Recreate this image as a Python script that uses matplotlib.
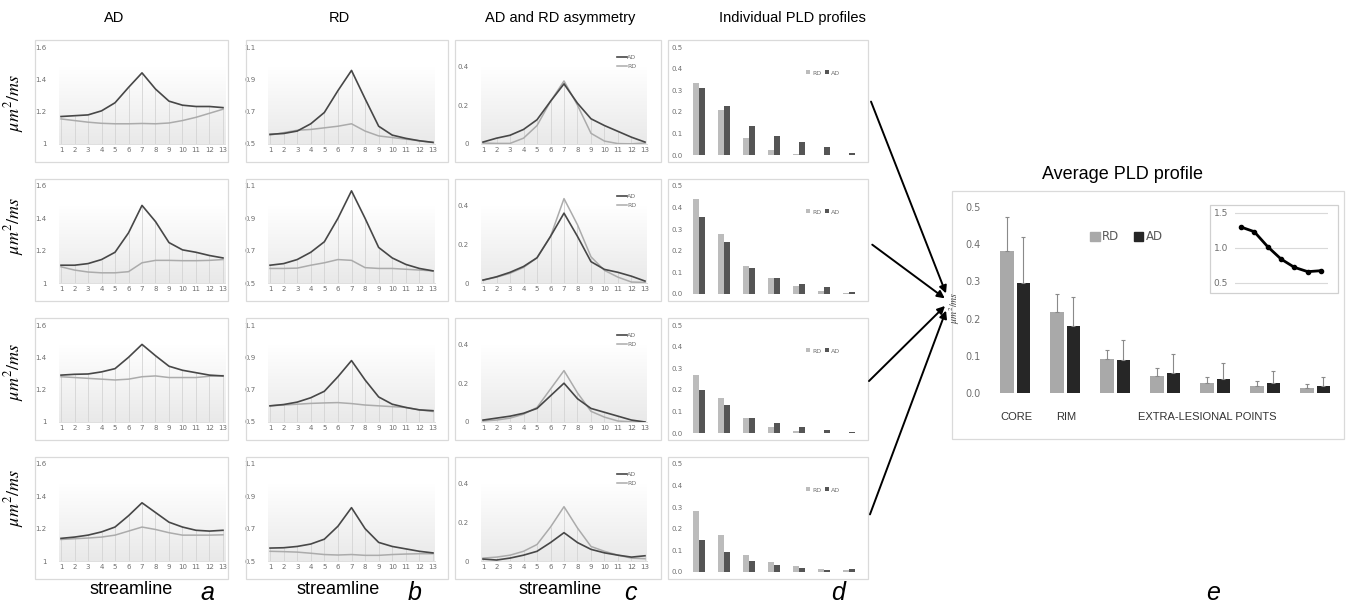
import numpy as np
import matplotlib
import matplotlib.pyplot as plt
from matplotlib.patches import Rectangle, FancyArrowPatch, Patch
from matplotlib.colors import LinearSegmentedColormap

plt.rcParams['mathtext.fontset'] = 'stix'

W, H = 1348, 605
streamline = np.arange(1, 14)
pld_points = np.arange(7)

# column a: AD along the streamline (4 lesions)
a_AD = [[1.17, 1.175, 1.18, 1.205, 1.255, 1.35, 1.44, 1.34, 1.265, 1.24, 1.232, 1.232, 1.225],
        [1.11, 1.11, 1.12, 1.145, 1.19, 1.31, 1.48, 1.38, 1.25, 1.205, 1.19, 1.17, 1.155],
        [1.29, 1.295, 1.297, 1.31, 1.33, 1.40, 1.48, 1.41, 1.345, 1.32, 1.305, 1.29, 1.285],
        [1.14, 1.148, 1.16, 1.18, 1.21, 1.28, 1.36, 1.30, 1.24, 1.21, 1.19, 1.185, 1.19]]
a_RD = [[1.155, 1.145, 1.135, 1.128, 1.125, 1.125, 1.127, 1.125, 1.13, 1.145, 1.165, 1.19, 1.215],
        [1.10, 1.08, 1.068, 1.063, 1.063, 1.07, 1.125, 1.14, 1.14, 1.138, 1.138, 1.14, 1.145],
        [1.28, 1.275, 1.27, 1.265, 1.26, 1.265, 1.28, 1.285, 1.275, 1.275, 1.275, 1.283, 1.287],
        [1.133, 1.138, 1.142, 1.148, 1.16, 1.185, 1.21, 1.195, 1.175, 1.16, 1.16, 1.16, 1.162]]

# column b: RD along the streamline
b_AD = [[0.56, 0.565, 0.58, 0.625, 0.695, 0.83, 0.955, 0.78, 0.61, 0.555, 0.535, 0.52, 0.51],
        [0.61, 0.62, 0.645, 0.69, 0.755, 0.9, 1.07, 0.9, 0.72, 0.655, 0.615, 0.59, 0.575],
        [0.6, 0.608, 0.623, 0.65, 0.69, 0.78, 0.88, 0.76, 0.655, 0.61, 0.59, 0.575, 0.57],
        [0.58, 0.582, 0.59, 0.605, 0.635, 0.715, 0.83, 0.7, 0.615, 0.59, 0.575, 0.56, 0.55]]
b_RD = [[0.555, 0.57, 0.585, 0.59, 0.60, 0.61, 0.625, 0.58, 0.55, 0.54, 0.53, 0.52, 0.51],
        [0.59, 0.59, 0.592, 0.61, 0.625, 0.645, 0.64, 0.595, 0.59, 0.59, 0.585, 0.58, 0.575],
        [0.6, 0.605, 0.61, 0.615, 0.618, 0.62, 0.614, 0.605, 0.6, 0.595, 0.59, 0.575, 0.565],
        [0.56, 0.558, 0.555, 0.548, 0.54, 0.537, 0.54, 0.535, 0.535, 0.54, 0.543, 0.545, 0.545]]

# column c: asymmetry
c_AD = [[0.01, 0.03, 0.045, 0.075, 0.125, 0.22, 0.31, 0.21, 0.13, 0.095, 0.065, 0.035, 0.01],
        [0.015, 0.032, 0.055, 0.085, 0.13, 0.24, 0.36, 0.24, 0.11, 0.07, 0.055, 0.035, 0.01],
        [0.01, 0.02, 0.03, 0.045, 0.07, 0.135, 0.2, 0.12, 0.07, 0.05, 0.03, 0.01, 0.0],
        [0.01, 0.005, 0.015, 0.03, 0.05, 0.095, 0.146, 0.095, 0.06, 0.042, 0.03, 0.02, 0.027]]
c_RD = [[0.005, 0.003, 0.003, 0.03, 0.095, 0.22, 0.325, 0.2, 0.055, 0.015, 0.002, 0.001, 0.005],
        [0.015, 0.03, 0.05, 0.08, 0.13, 0.24, 0.435, 0.3, 0.135, 0.065, 0.03, 0.005, 0.003],
        [0.005, 0.01, 0.02, 0.04, 0.075, 0.17, 0.265, 0.15, 0.055, 0.025, 0.005, 0.001, 0.001],
        [0.015, 0.02, 0.03, 0.05, 0.085, 0.175, 0.28, 0.17, 0.075, 0.05, 0.03, 0.015, 0.012]]

# column d: individual PLD profiles
d_RD = [[0.333, 0.208, 0.08, 0.022, 0.003, 0.001, 0.002],
        [0.438, 0.276, 0.13, 0.075, 0.037, 0.014, 0.006],
        [0.27, 0.16, 0.069, 0.028, 0.01, 0.002, 0.001],
        [0.284, 0.169, 0.078, 0.048, 0.027, 0.016, 0.008]]
d_AD = [[0.31, 0.226, 0.134, 0.088, 0.06, 0.037, 0.011],
        [0.356, 0.242, 0.12, 0.075, 0.048, 0.031, 0.01],
        [0.20, 0.128, 0.07, 0.046, 0.03, 0.014, 0.005],
        [0.15, 0.094, 0.053, 0.034, 0.019, 0.011, 0.014]]

# panel e: average PLD profile
e_RD = [0.381, 0.219, 0.091, 0.047, 0.027, 0.019, 0.014]
e_RD_err = [0.092, 0.048, 0.024, 0.021, 0.016, 0.013, 0.010]
e_AD = [0.297, 0.18, 0.088, 0.055, 0.038, 0.027, 0.018]
e_AD_err = [0.122, 0.078, 0.055, 0.05, 0.042, 0.033, 0.025]
inset_ratio = [1.30, 1.233, 1.02, 0.843, 0.724, 0.662, 0.676]

col_titles = ['AD', 'RD', 'AD and RD asymmetry', 'Individual PLD profiles']

C_AD_LINE, C_RD_LINE = '#474747', '#ababab'
C_AD_BAR, C_RD_BAR = '#555555', '#bcbcbc'
TICK_C = '#6e6e6e'

fig = plt.figure(figsize=(W / 100, H / 100), dpi=100)
grad_cmap = LinearSegmentedColormap.from_list('g', ['#e9e9e9', '#ffffff'])


def fax(x0, y0, x1, y1):
    return fig.add_axes([x0 / W, 1 - y1 / H, (x1 - x0) / W, (y1 - y0) / H])


def box(x0, y0, x1, y1, ec='#dadada'):
    fig.add_artist(Rectangle((x0 / W, 1 - y1 / H), (x1 - x0) / W, (y1 - y0) / H,
                             transform=fig.transFigure, fill=False, ec=ec, lw=0.9))


def clean(ax):
    for s in ax.spines.values():
        s.set_visible(False)
    ax.tick_params(length=0, labelsize=5, colors=TICK_C)


def line_panel(x0, x1, top, ad, rd, ylim, yticks, ylabels, legend=False):
    ax = fax(x0, top, x1, top + 97)
    y0, y1 = ylim
    grad = np.linspace(0, 1, 60).reshape(-1, 1)
    ax.imshow(grad, extent=(0.85, 13.15, y0, y0 + 0.8 * (y1 - y0)), cmap=grad_cmap,
              aspect='auto', origin='lower', zorder=0)
    ax.vlines(streamline, y0, np.maximum(ad, rd), color='#d4d4d4', lw=0.6, zorder=1)
    l_ad, = ax.plot(streamline, ad, color=C_AD_LINE, lw=1.2, zorder=3)
    l_rd, = ax.plot(streamline, rd, color=C_RD_LINE, lw=1.1, zorder=2)
    ax.set_xlim(0.85, 13.15)
    ax.set_ylim(y0, y1)
    clean(ax)
    ax.spines['bottom'].set_visible(True)
    ax.spines['bottom'].set_color('#d9d9d9')
    ax.spines['bottom'].set_linewidth(0.6)
    ax.set_xticks(streamline)
    ax.set_yticks(yticks)
    ax.set_yticklabels(ylabels)
    ax.tick_params(axis='y', pad=9)
    ax.tick_params(axis='x', pad=2.5)
    if legend:
        ax.legend([l_ad, l_rd], ['AD', 'RD'], loc='upper right', bbox_to_anchor=(0.97, 0.98),
                  frameon=False, fontsize=4.5, handlelength=1.6, handletextpad=0.1,
                  labelspacing=0.6, labelcolor=TICK_C)
    return ax


row_tops = [47, 186, 325, 464]
for r, top in enumerate(row_tops):
    btop = top - 7
    box(35, btop, 228, btop + 122)
    box(246, btop, 448, btop + 122)
    box(455, btop, 661, btop + 122)
    box(668, btop, 868, btop + 122)

    line_panel(59, 225, top, a_AD[r], a_RD[r], (1, 1.6), [1, 1.2, 1.4, 1.6],
               ['1', '1.2', '1.4', '1.6'])
    line_panel(268, 435, top, b_AD[r], b_RD[r], (0.5, 1.1), [0.5, 0.7, 0.9, 1.1],
               ['0.5', '0.7', '0.9', '1.1'])
    line_panel(481, 647, top, c_AD[r], c_RD[r], (0, 0.5), [0, 0.2, 0.4],
               ['0', '0.2', '0.4'], legend=True)

    ax = fax(686.5, top, 861.5, top + 108)
    ax.bar(pld_points - 0.12, d_RD[r], 0.24, color=C_RD_BAR, label='RD')
    ax.bar(pld_points + 0.12, d_AD[r], 0.24, color=C_AD_BAR, label='AD')
    ax.set_xlim(-0.5, 6.5)
    ax.set_ylim(0, 0.5)
    clean(ax)
    ax.set_xticks([])
    ax.set_yticks([0, 0.1, 0.2, 0.3, 0.4, 0.5])
    ax.set_yticklabels(['0.0', '0.1', '0.2', '0.3', '0.4', '0.5'])
    ax.tick_params(axis='y', pad=3)
    ax.legend(loc='center', bbox_to_anchor=(0.78, 0.76), ncol=2, frameon=False,
              fontsize=4.5, handlelength=0.6, handleheight=0.6, columnspacing=0.6,
              handletextpad=0.3, labelcolor=TICK_C)

for yc in [103, 226, 372, 498]:
    fig.text(14 / W, 1 - yc / H, r'$\mu m^2/ms$', rotation=90, fontsize=13,
             ha='center', va='center')

for xc, t in zip([114, 339, 560, 792], col_titles):
    fig.text(xc / W, 1 - 18 / H, t, fontsize=10.5, family='Liberation Sans',
             ha='center', va='center')

for xc in [131, 338, 560]:
    fig.text(xc / W, 1 - 590 / H, 'streamline', fontsize=13, family='Liberation Sans',
             ha='center', va='center')
for xc, t in zip([207, 415, 630, 838, 1213], ['a', 'b', 'c', 'd', 'e']):
    fig.text(xc / W, 1 - 593 / H, t, fontsize=18, style='italic', family='Liberation Sans',
             ha='center', va='center')

# panel e
box(952, 191, 1344, 439)
fig.text(1122 / W, 1 - 175 / H, 'Average PLD profile', fontsize=13, family='Liberation Sans',
         ha='center', va='center')
ax = fax(990, 207, 1340, 393)
ax.bar(pld_points - 0.165, e_RD, 0.27, color='#a9a9a9',
       yerr=[np.zeros(7), e_RD_err], ecolor='#8a8a8a', error_kw=dict(lw=0.8, capsize=1.5, capthick=0.8))
ax.bar(pld_points + 0.165, e_AD, 0.27, color='#262626',
       yerr=[np.zeros(7), e_AD_err], ecolor='#8a8a8a', error_kw=dict(lw=0.8, capsize=1.5, capthick=0.8))
ax.set_xlim(-0.5, 6.5)
ax.set_ylim(0, 0.5)
clean(ax)
ax.tick_params(labelsize=7)
ax.set_xticks([])
ax.set_yticks([0, 0.1, 0.2, 0.3, 0.4, 0.5])
ax.set_yticklabels(['0.0', '0.1', '0.2', '0.3', '0.4', '0.5'])
ax.tick_params(axis='y', pad=7)
ax.legend(handles=[Patch(color='#a9a9a9', label='RD'), Patch(color='#262626', label='AD')],
          loc='center', bbox_to_anchor=(0.39, 0.84), ncol=2, frameon=False, fontsize=8.5,
          handlelength=0.8, handleheight=0.8, columnspacing=1.2, handletextpad=0.2,
          labelcolor='#595959')
fig.text(955 / W, 1 - 308 / H, r'$\mu m^2/ms$', rotation=90, fontsize=7,
         ha='center', va='center', color='#404040')
for xc, t in zip([1016, 1066, 1207], ['CORE', 'RIM', 'EXTRA-LESIONAL POINTS']):
    fig.text(xc / W, 1 - 417 / H, t, fontsize=8, family='Liberation Sans',
             ha='center', va='center', color='#333333')

# inset
box(1210, 205, 1338, 293, ec='#d0d0d0')
ins = fax(1235, 206, 1328, 290)
ins.plot(pld_points, inset_ratio, color='black', lw=2, marker='o', ms=3)
ins.set_xlim(-0.44, 6.52)
ins.set_ylim(0.5 - 7 / 70, 1.5 + 7 / 70)
clean(ins)
ins.set_xticks([])
ins.set_yticks([0.5, 1.0, 1.5])
ins.set_yticklabels(['0.5', '1.0', '1.5'])
ins.tick_params(labelsize=6.5, pad=5)
ins.grid(axis='y', color='#d9d9d9', lw=0.8)
ins.set_axisbelow(True)

# arrows from individual profiles to the average
starts = [(870, 99), (870, 243), (867, 383), (869, 517)]
tips = [(947, 296), (947, 300), (947, 304), (947, 308)]
for (sx, sy), (tx, ty) in zip(starts, tips):
    fig.add_artist(FancyArrowPatch((sx / W, 1 - sy / H), (tx / W, 1 - ty / H),
                                   transform=fig.transFigure, arrowstyle='-|>',
                                   mutation_scale=11, lw=1.4, color='black'))

fig.savefig('out.png', dpi=100)
